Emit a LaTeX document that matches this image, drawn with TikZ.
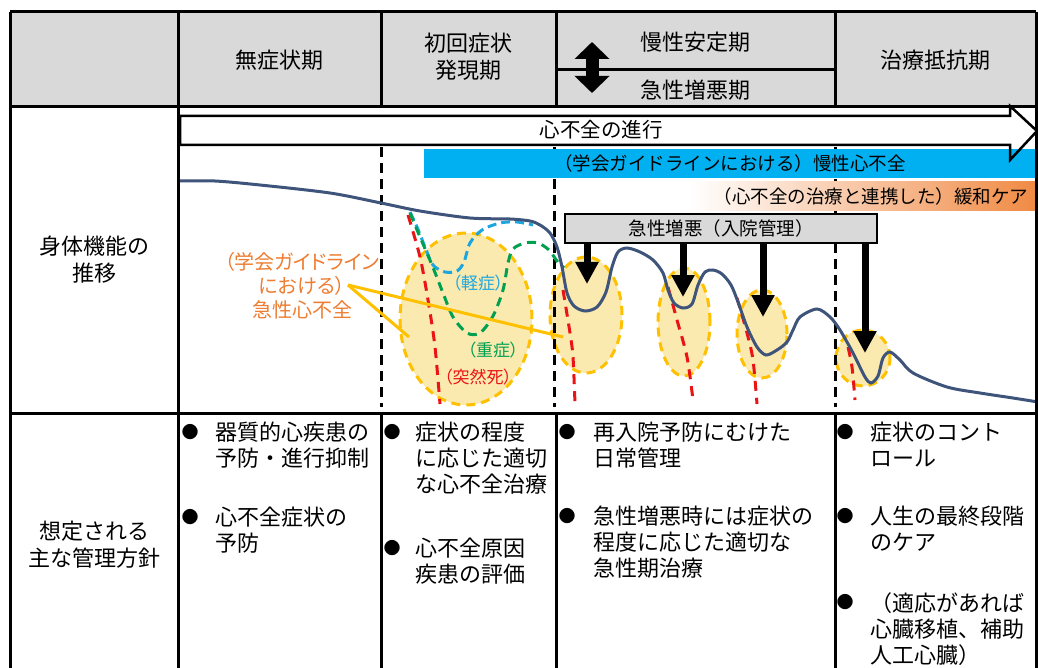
\documentclass[tikz,border=0pt]{standalone}
\usepackage{fontspec}
\setmainfont{Noto Sans CJK JP}
\newfontfamily\propfont[RawFeature=+palt]{Noto Sans CJK JP}
\usetikzlibrary{shapes.geometric,arrows.meta}

\definecolor{headgray}{RGB}{217,217,217}
\definecolor{chfblue}{RGB}{0,176,240}
\definecolor{careorange}{RGB}{240,138,68}
\definecolor{curveblue}{RGB}{62,84,122}
\definecolor{ahforange}{RGB}{237,125,49}
\definecolor{ringyellow}{RGB}{255,192,0}
\definecolor{spotfill}{RGB}{251,234,176}
\definecolor{mildblue}{RGB}{28,166,224}
\definecolor{severegreen}{RGB}{0,160,80}
\definecolor{deathred}{RGB}{235,20,20}

\begin{document}
\begin{tikzpicture}
[every node/.style={inner sep=0pt, font=\fontsize{22pt}{27pt}\selectfont},
 tableline/.style={line width=3pt, color=black},
 phaseline/.style={line width=3pt, color=black, dash pattern=on 10pt off 6pt},
 episode/.style={ellipse, fill=spotfill, draw=ringyellow, line width=3pt, dash pattern=on 9pt off 6pt},
 deathline/.style={line width=3pt, color=deathred, dash pattern=on 10pt off 7pt},
 mildline/.style={line width=3pt, color=mildblue, dash pattern=on 9pt off 5pt},
 severeline/.style={line width=3pt, color=severegreen, dash pattern=on 9pt off 6pt},
 pointer/.style={line width=3pt, color=ringyellow},
 drop/.style={line width=7pt, -{Triangle[width=22pt,length=22pt]}},
 swing/.style={line width=13pt, {Triangle[width=34pt,length=17pt]}-{Triangle[width=34pt,length=17pt]}},
 bartext/.style={font=\fontsize{18.5pt}{22pt}\selectfont},
 sublabel/.style={font=\propfont\fontsize{17pt}{20pt}\selectfont},
 dot/.style={font=\fontsize{17pt}{20pt}\selectfont},
 policy/.style={anchor=north west, align=left, font=\fontsize{22pt}{26pt}\selectfont}]
\useasboundingbox (0pt,0pt) rectangle (1038pt,-668pt);

% header row
\fill [headgray] (10pt,-12pt) rectangle (1036pt,-107pt);
\node (asym) at (279pt,-60pt) {無症状期};
\node (onset) [align=center] at (468pt,-57pt) {初回症状\\発現期};
\node (stable) at (695pt,-42pt) {慢性安定期};
\node (worse) at (695pt,-90pt) {急性増悪期};
\node (resist) at (935pt,-60pt) {治療抵抗期};
\draw [swing] (592pt,-42pt) -- (592pt,-93pt);

% row titles
\node (func) [align=center] at (94pt,-260pt) {身体機能の\\推移};
\node (policy) [align=center] at (94pt,-545pt) {想定される\\主な管理方針};

% acute episodes
\node (e1) [episode, minimum width=132pt, minimum height=172pt] at (466pt,-319pt) {};
\node (e2) [episode, minimum width=72pt, minimum height=116pt] at (586pt,-315pt) {};
\node (e3) [episode, minimum width=52pt, minimum height=108pt] at (684pt,-322pt) {};
\node (e4) [episode, minimum width=50pt, minimum height=88pt] at (762pt,-334pt) {};
\node (e5) [episode, minimum width=54pt, minimum height=56pt] at (863pt,-358pt) {};

% stage borders
\draw [phaseline] (381pt,-147pt) -- (381pt,-407pt);
\draw [phaseline] (554pt,-147pt) -- (554pt,-407pt);
\draw [phaseline] (835pt,-147pt) -- (835pt,-407pt);

% bars
\node (chf) [fill=chfblue, minimum width=612pt, minimum height=29pt, bartext] at (730pt,-163.5pt) {（学会ガイドラインにおける）慢性心不全};
\node (care) [left color=white, right color=careorange, minimum height=29pt, text width=330pt, inner xsep=8pt, align=right, bartext] at (863pt,-196pt) {（心不全の治療と連携した）緩和ケア};
\node (aex) [fill=headgray, draw=black, line width=2.5pt, minimum width=312pt, minimum height=29pt, bartext] at (721pt,-228.5pt) {急性増悪（入院管理）};

% progression arrow
\draw [line width=2.5pt] (180pt,-116pt) -- (1010pt,-116pt) -- (1010pt,-106pt) -- (1037pt,-131pt) -- (1010pt,-160pt) -- (1010pt,-145pt) -- (180pt,-145pt) -- cycle;
\node (prog) [font=\fontsize{20.5pt}{24pt}\selectfont] at (601pt,-130pt) {心不全の進行};

% sudden death
\draw [deathline] plot [smooth] coordinates {(408pt,-215pt) (420pt,-257pt) (428pt,-300pt) (435pt,-347pt) (440pt,-404pt)};
\draw [deathline] plot [smooth] coordinates {(563pt,-290pt) (570pt,-333pt) (573pt,-357pt) (575pt,-404pt)};
\draw [deathline] plot [smooth] coordinates {(668pt,-287pt) (677pt,-320pt) (687pt,-357pt) (693pt,-400pt)};
\draw [deathline] plot [smooth] coordinates {(737pt,-298pt) (747pt,-333pt) (753pt,-360pt) (757pt,-404pt)};
\draw [deathline] plot [smooth] coordinates {(848pt,-347pt) (852pt,-367pt) (855pt,-400pt)};

% mild / severe courses
\draw [mildline] plot [smooth] coordinates {(410pt,-212pt) (417pt,-227pt) (425pt,-247pt) (433pt,-265pt) (445pt,-272pt) (457pt,-271pt) (464pt,-262pt) (470pt,-243pt) (482pt,-230pt) (500pt,-223pt) (517pt,-222pt) (533pt,-225pt)};
\draw [severeline] plot [smooth] coordinates {(410pt,-213pt) (420pt,-237pt) (432pt,-265pt) (443pt,-293pt) (453pt,-317pt) (467pt,-333pt) (480pt,-333pt) (493pt,-316pt) (503pt,-290pt) (508pt,-263pt) (513pt,-249pt) (525pt,-243pt) (538pt,-243pt) (549pt,-250pt) (557pt,-261pt) (564pt,-268pt)};

% acute heart failure label
\node (ahf) [align=center, text=ahforange, font=\propfont\fontsize{20pt}{24pt}\selectfont] at (302pt,-286pt) {（学会ガイドライン\\における）\\急性心不全};
\coordinate (ahfpt) at (348pt,-285pt);
\coordinate (e1pt) at (409pt,-337pt);
\coordinate (e2pt) at (563pt,-337pt);
\draw [pointer] (ahfpt) -- (e1pt);
\draw [pointer] (ahfpt) -- (e2pt);

\node (mild) [text=mildblue, sublabel] at (478pt,-283pt) {（軽症）};
\node (severe) [text=severegreen, sublabel] at (493pt,-350pt) {（重症）};
\node (death) [text=deathred, sublabel] at (478pt,-377pt) {（突然死）};

% physical function
\draw [line width=3pt, color=curveblue] plot [smooth] coordinates {(180pt,-181pt) (215pt,-181pt) (260pt,-185pt) (330pt,-193pt) (381pt,-203pt) (420pt,-211pt) (470pt,-218pt) (510pt,-219pt) (530pt,-221pt) (540pt,-225pt) (550pt,-233pt) (557pt,-247pt) (562pt,-267pt) (567pt,-293pt) (574pt,-306pt) (585pt,-311pt) (597pt,-307pt) (606pt,-292pt) (612pt,-267pt) (618pt,-252pt) (627pt,-248pt) (640pt,-252pt) (653pt,-260pt) (663pt,-273pt) (668pt,-290pt) (674pt,-303pt) (683pt,-308pt) (692pt,-304pt) (698pt,-285pt) (705pt,-272pt) (713pt,-270pt) (722pt,-274pt) (731pt,-285pt) (738pt,-302pt) (747pt,-327pt) (757pt,-347pt) (766pt,-355pt) (777pt,-350pt) (787pt,-342pt) (793pt,-330pt) (800pt,-317pt) (817pt,-309pt) (830pt,-317pt) (840pt,-330pt) (853pt,-353pt) (865pt,-377pt) (871pt,-383pt) (878pt,-376pt) (883pt,-358pt) (890pt,-352pt) (900pt,-360pt) (913pt,-373pt) (947pt,-387pt) (980pt,-393pt) (1013pt,-398pt) (1038pt,-402pt)};

% admissions
\coordinate (h1) at (587pt,-284pt);
\coordinate (h2) at (683pt,-297pt);
\coordinate (h3) at (763pt,-317pt);
\coordinate (h4) at (865pt,-353pt);
\draw [drop] (aex.south -| h1) -- (h1);
\draw [drop] (aex.south -| h2) -- (h2);
\draw [drop] (aex.south -| h3) -- (h3);
\draw [drop] (aex.south -| h4) -- (h4);

% management policies
\node (b1a) [dot] at (190pt,-432pt) {●};
\node (p1a) [policy] at (215pt,-422pt) {器質的心疾患の\\予防・進行抑制};
\node (b1b) [dot] at (190pt,-517pt) {●};
\node (p1b) [policy] at (215pt,-507pt) {心不全症状の\\予防};
\node (b2a) [dot] at (392pt,-432pt) {●};
\node (p2a) [policy] at (415pt,-422pt) {症状の程度\\に応じた適切\\な心不全治療};
\node (b2b) [dot] at (392pt,-548pt) {●};
\node (p2b) [policy] at (415pt,-538pt) {心不全原因\\疾患の評価};
\node (b3a) [dot] at (567pt,-432pt) {●};
\node (p3a) [policy] at (593pt,-422pt) {再入院予防にむけた\\日常管理};
\node (b3b) [dot] at (567pt,-516pt) {●};
\node (p3b) [policy] at (593pt,-506pt) {急性増悪時には症状の\\程度に応じた適切な\\急性期治療};
\node (b4a) [dot] at (845pt,-432pt) {●};
\node (p4a) [policy] at (870pt,-422pt) {症状のコント\\ロール};
\node (b4b) [dot] at (845pt,-516pt) {●};
\node (p4b) [policy] at (870pt,-506pt) {人生の最終段階\\のケア};
\node (b4c) [dot] at (845pt,-602pt) {●};
\node (p4c) [policy] at (870pt,-592pt) {（適応があれば\\心臓移植、補助\\人工心臓）};

% table
\draw [tableline] (10pt,-12pt) -- (1036pt,-12pt);
\draw [tableline] (10pt,-107pt) -- (1036pt,-107pt);
\draw [tableline] (10pt,-413pt) -- (1036pt,-413pt);
\draw [tableline] (556pt,-70pt) -- (835pt,-70pt);
\draw [tableline] (10pt,-12pt) -- (10pt,-668pt);
\draw [tableline] (1036pt,-12pt) -- (1036pt,-668pt);
\draw [tableline] (178pt,-12pt) -- (178pt,-668pt);
\draw [tableline] (381pt,-12pt) -- (381pt,-107pt);
\draw [tableline] (556pt,-12pt) -- (556pt,-107pt);
\draw [tableline] (835pt,-12pt) -- (835pt,-107pt);
\draw [tableline] (381pt,-413pt) -- (381pt,-668pt);
\draw [tableline] (556pt,-413pt) -- (556pt,-668pt);
\draw [tableline] (835pt,-413pt) -- (835pt,-668pt);
\end{tikzpicture}
\end{document}
